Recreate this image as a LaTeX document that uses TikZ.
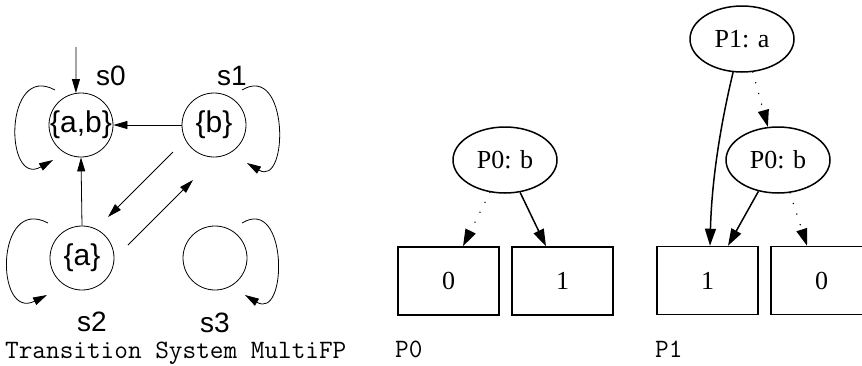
\documentclass[tikz,border=0pt]{standalone}
\usepackage{fontspec}
\setmainfont{Liberation Serif}
\newfontfamily\helv{Liberation Sans}
\usetikzlibrary{arrows.meta,calc,shapes.geometric}
\tikzset{
  state/.style={circle, draw, line width=0.8pt, minimum size=64pt, inner sep=0pt,
    font=\helv\fontsize{30}{36}\selectfont},
  slabel/.style={anchor=base, inner sep=0pt, font=\helv\fontsize{28}{34}\selectfont},
  tarrow/.style={-{Triangle[length=14pt,width=8pt]}, line width=0.8pt},
  bddnode/.style={ellipse, draw, line width=1.5pt, minimum width=104pt, minimum height=66pt,
    inner sep=0pt, font=\fontsize{26}{31}\selectfont},
  leaf/.style={rectangle, draw, line width=1.5pt, minimum width=101pt, minimum height=68pt,
    inner sep=0pt, font=\fontsize{26}{31}\selectfont},
  garrow/.style={-{Triangle[length=17pt,width=11pt]}, line width=1.5pt},
  gdot/.style={line cap=round, dash pattern=on 0.1pt off 11pt},
  caption/.style={anchor=base west, inner sep=0pt, font=\ttfamily\fontsize{26.5}{31}\selectfont}
}
\begin{document}
\begin{tikzpicture}[x=1pt,y=-1pt]
\useasboundingbox (0,0) rectangle (862,365);
\clip (0,0) rectangle (862,365);
% transition system
\node[state] (s0) at (81,125) {\makebox[0pt]{\{a,b\}}};
\node[state] (s1) at (214,125) {\makebox[0pt]{\{b\}}};
\node[state] (s2) at (82,258) {\makebox[0pt]{\{a\}}};
\node[state] (s3) at (215,258) {};
\node[slabel] (l0) at (111,85) {s0};
\node[slabel] (l1) at (232,85) {s1};
\node[slabel] (l2) at (92,331) {s2};
\node[slabel] (l3) at (215,332) {s3};
\coordinate (init) at (76,47);
\draw[tarrow] (init) -- (s0.99);
\draw[tarrow] (s1.west) -- (s0.east);
\draw[tarrow] (s2.north) -- (s0.south);
\draw[tarrow] ($(s1)+(-41,27)$) -- ($(s2)+(26,-41)$);
\draw[tarrow] ($(s2)+(46,-13)$) -- ($(s1)+(-21,55)$);
\draw[tarrow] ($(s0)+(-26,-35)$) .. controls ($(s0)+(-77,-63)$) and ($(s0)+(-77,63)$) .. ($(s0)+(-28,35)$);
\draw[tarrow] ($(s1)+(28,-35)$) .. controls ($(s1)+(75,-63)$) and ($(s1)+(75,63)$) .. ($(s1)+(33,38)$);
\draw[tarrow] ($(s2)+(-34,-35)$) .. controls ($(s2)+(-87,-63)$) and ($(s2)+(-87,63)$) .. ($(s2)+(-35,37)$);
\draw[tarrow] ($(s3)+(27,-35)$) .. controls ($(s3)+(73,-63)$) and ($(s3)+(73,63)$) .. ($(s3)+(30,37)$);
\node[caption] (cap) at (5,358) {Transition System MultiFP};
% P0
\node[bddnode] (mb) at (505,160) {P0: b};
\node[leaf] (m0) at (448.5,281) {0};
\node[leaf] (m1) at (562.5,281) {1};
\draw[garrow, gdot] (mb.245) -- ([xshift=14.5pt]m0.north);
\draw[garrow] (mb.295) -- ([xshift=-16.5pt]m1.north);
\node[caption] (cp0) at (395,357) {P0};
% P1
\node[bddnode] (ra) at (742,39) {P1: a};
\node[bddnode] (rb) at (778,160) {P0: b};
\node[leaf] (r1) at (707.5,280.5) {1};
\node[leaf] (r0) at (821.5,280.5) {0};
\draw[garrow] (ra.255) .. controls ($(ra)+(-18,71)$) and ($(r1)+(4.5,-110.5)$) .. ([xshift=2.5pt]r1.north);
\draw[garrow, gdot] (ra.288) -- (rb.107);
\draw[garrow] (rb.238) -- ([xshift=20.5pt]r1.north);
\draw[garrow, gdot] (rb.290) -- ([xshift=-14.5pt]r0.north);
\node[caption] (cp1) at (655,357) {P1};
\end{tikzpicture}
\end{document}
